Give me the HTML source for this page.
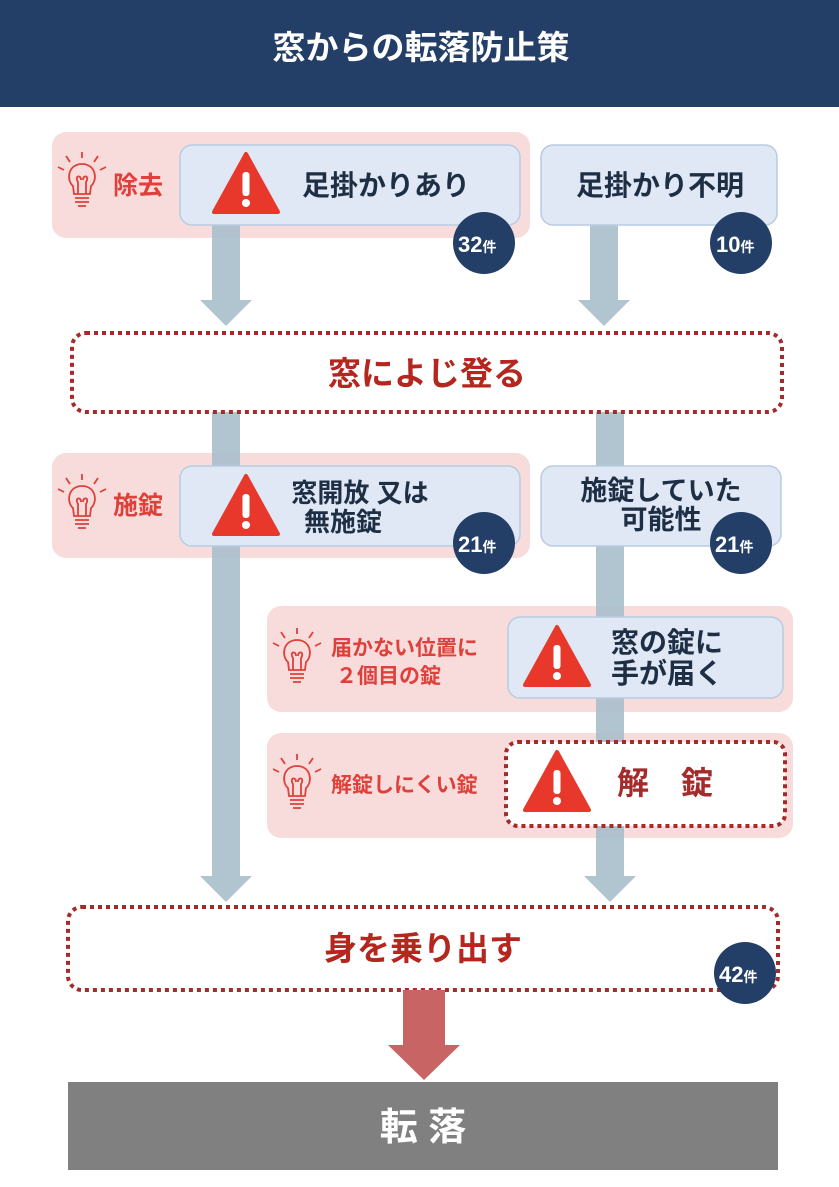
<!DOCTYPE html>
<html><head><meta charset="utf-8"><style>
body{margin:0;width:839px;height:1182px;overflow:hidden;background:#fff}
svg text{font-family:"Liberation Sans","Noto Sans CJK JP",sans-serif;font-weight:bold}
</style></head><body>
<svg width="839" height="1182" viewBox="0 0 839 1182" xmlns="http://www.w3.org/2000/svg">
<defs>
<g id="tri"><path d="M0,-32 L32,26 L-32,26 Z" fill="#e8382c" stroke="#e8382c" stroke-width="4" stroke-linejoin="round"/><rect x="-3.5" y="-14" width="7" height="24" rx="3" fill="#fff"/><circle cx="0" cy="17" r="4" fill="#fff"/></g>
<g id="bulb" fill="none" stroke="#e0403a" stroke-width="1.8"><path d="M-9,6 C-16,0 -14,-16 0,-16 C14,-16 16,0 9,6 L8,14 L-8,14 Z"/><path d="M-4,14 L-4,2 C-8,-4 -1,-6 -1,0 M4,14 L4,2 C8,-4 1,-6 1,0"/><path d="M-7,18 H7 M-7,22 H7 M-4,26 H4"/><path d="M0,-22 V-28 M-12,-18 L-16,-24 M12,-18 L16,-24 M-18,-10 L-24,-13 M18,-10 L24,-13"/></g>
</defs>
<rect x="0" y="0" width="839" height="107" fill="#243f67"/>
<text x="421" y="59" font-size="33" fill="#fff" text-anchor="middle">窓からの転落防止策</text>

<rect x="52" y="132" width="478" height="106" rx="14" fill="#f8dcdc"/>
<rect x="52" y="453" width="478" height="105" rx="14" fill="#f8dcdc"/>
<rect x="267" y="606" width="526" height="106" rx="14" fill="#f8dcdc"/>
<rect x="267" y="733" width="526" height="105" rx="14" fill="#f8dcdc"/>

<g fill="#a9bfcc" opacity="0.9">
<rect x="212" y="225" width="28" height="77"/><path d="M200,300 H252 L226,326 Z"/>
<rect x="590" y="225" width="28" height="77"/><path d="M578,300 H630 L604,326 Z"/>
<rect x="212" y="412" width="28" height="466"/><path d="M200,876 H252 L226,902 Z"/>
<rect x="596" y="412" width="28" height="466"/><path d="M584,876 H636 L610,902 Z"/>
</g>

<g fill="#dfe8f4" stroke="#b9cbe2" stroke-width="1.5">
<rect x="180" y="145" width="340" height="80" rx="12"/>
<rect x="541" y="145" width="236" height="80" rx="12"/>
<rect x="180" y="466" width="340" height="80" rx="12"/>
<rect x="541" y="466" width="240" height="80" rx="12"/>
<rect x="508" y="617" width="275" height="81" rx="12"/>
</g>
<rect x="506" y="742" width="279" height="84" rx="12" fill="#fff" stroke="#a52a2a" stroke-width="4" stroke-dasharray="4 4"/>

<rect x="72" y="333" width="710" height="79" rx="14" fill="#fff" stroke="#a52a2a" stroke-width="4" stroke-dasharray="4 4"/>
<text x="427" y="385" font-size="33" fill="#b5261f" text-anchor="middle">窓によじ登る</text>
<rect x="68" y="907" width="710" height="83" rx="14" fill="#fff" stroke="#a52a2a" stroke-width="4" stroke-dasharray="4 4"/>
<text x="423" y="960" font-size="33" fill="#b5261f" text-anchor="middle">身を乗り出す</text>

<use href="#bulb" x="82" y="180"/><use href="#bulb" x="82" y="502"/><use href="#bulb" x="297" y="656"/><use href="#bulb" x="297" y="782"/>
<text x="113" y="194" font-size="25" fill="#e0403a">除去</text>
<text x="113" y="514" font-size="25" fill="#e0403a">施錠</text>
<text x="331" y="655" font-size="21" fill="#e0403a">届かない位置に</text>
<text x="336" y="683" font-size="21" fill="#e0403a">２個目の錠</text>
<text x="331" y="792" font-size="21" fill="#e0403a">解錠しにくい錠</text>

<use href="#tri" x="246" y="186"/><use href="#tri" x="246" y="508"/><use href="#tri" x="557" y="659"/><use href="#tri" x="557" y="784"/>
<text x="386" y="195" font-size="28" fill="#1e2e45" text-anchor="middle">足掛かりあり</text>
<text x="660" y="195" font-size="28" fill="#1e2e45" text-anchor="middle">足掛かり不明</text>
<text x="360" y="502" font-size="26" fill="#1e2e45" text-anchor="middle">窓開放 又は</text>
<text x="343" y="531" font-size="26" fill="#1e2e45" text-anchor="middle">無施錠</text>
<text x="661" y="500" font-size="27" fill="#1e2e45" text-anchor="middle">施錠していた</text>
<text x="661" y="529" font-size="27" fill="#1e2e45" text-anchor="middle">可能性</text>
<text x="667" y="652" font-size="28" fill="#1e2e45" text-anchor="middle">窓の錠に</text>
<text x="667" y="683" font-size="28" fill="#1e2e45" text-anchor="middle">手が届く</text>
<text x="665" y="794" font-size="32" fill="#a52a2a" text-anchor="middle">解　錠</text>

<g fill="#243f67"><circle cx="484" cy="243" r="31"/><circle cx="741" cy="243" r="31"/><circle cx="484" cy="543" r="31"/><circle cx="741" cy="543" r="31"/><circle cx="745" cy="973" r="31"/></g>
<g fill="#fff" font-size="22"><text x="458" y="252">32<tspan font-size="14">件</tspan></text>
<text x="716" y="252">10<tspan font-size="14">件</tspan></text>
<text x="458" y="552">21<tspan font-size="14">件</tspan></text>
<text x="715" y="552">21<tspan font-size="14">件</tspan></text>
<text x="719" y="982">42<tspan font-size="14">件</tspan></text></g>

<rect x="403" y="990" width="42" height="56" fill="#c86464"/>
<path d="M388,1045 H460 L424,1080 Z" fill="#c86464"/>
<rect x="68" y="1082" width="710" height="88" fill="#808080"/>
<text x="423" y="1140" font-size="38" fill="#fff" text-anchor="middle">転 落</text>
</svg>
</body></html>
